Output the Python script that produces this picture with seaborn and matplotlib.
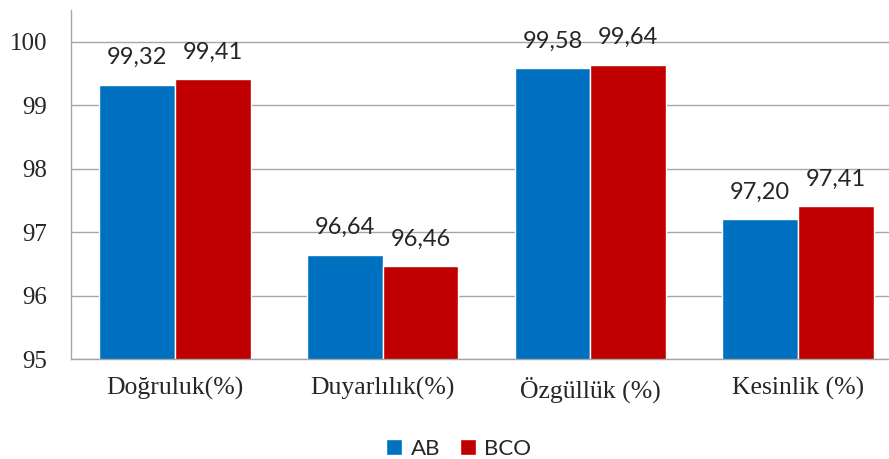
import matplotlib
matplotlib.use("Agg")
import matplotlib.pyplot as plt
import seaborn as sns
import pandas as pd
from matplotlib.patches import Patch

categories = ["Doğruluk(%)", "Duyarlılık(%)", "Özgüllük (%)", "Kesinlik (%)"]
series_names = ["AB", "BCO"]
ab_values = [99.32, 96.64, 99.58, 97.20]
bco_values = [99.41, 96.46, 99.64, 97.41]
y_ticks = [95, 96, 97, 98, 99, 100]

colors = {"AB": "#0070C0", "BCO": "#C00000"}

df = pd.DataFrame({
    "Kategori": categories * 2,
    "Yöntem": ["AB"] * len(categories) + ["BCO"] * len(categories),
    "Değer": ab_values + bco_values,
})

sns.set_style("white")
fig = plt.figure(figsize=(8.89, 4.59), dpi=100)
ax = fig.add_axes([71 / 889, 100 / 459, (902 - 71) / 889, 349 / 459])

sns.barplot(data=df, x="Kategori", y="Değer", hue="Yöntem", hue_order=series_names,
            palette=colors, width=0.73, saturation=1, ax=ax, legend=False,
            errorbar=None)

ax.set_ylim(95, 100.5)
ax.set_xlim(-0.5, len(categories) - 0.5)
ax.set_yticks(y_ticks)
ax.set_yticklabels([str(t) for t in y_ticks])
ax.set_xticks(range(len(categories)))
ax.set_xticklabels(categories)
ax.tick_params(axis="y", length=0, pad=17)
ax.tick_params(axis="x", length=0, pad=13)
for lbl in ax.get_yticklabels():
    lbl.set_fontfamily("Liberation Serif")
    lbl.set_fontsize(18)
for lbl in ax.get_xticklabels():
    lbl.set_fontfamily("Liberation Serif")
    lbl.set_fontsize(18.5)
ax.set_xlabel("")
ax.set_ylabel("")

ax.yaxis.grid(True, color="#A6A6A6", linewidth=1)
ax.set_axisbelow(True)
for side in ["top", "right"]:
    ax.spines[side].set_visible(False)
for side in ["left", "bottom"]:
    ax.spines[side].set_color("#A6A6A6")
    ax.spines[side].set_linewidth(1)

for container in ax.containers:
    labels = [f"{b.get_height():.2f}".replace(".", ",") for b in container]
    ax.bar_label(container, labels=labels, padding=12, fontfamily="Lato", fontsize=17)

handles = [Patch(facecolor=colors[n], label=n) for n in series_names]
fig.legend(handles=handles, loc="center", bbox_to_anchor=(0.516, 10 / 459), ncol=2,
           frameon=False, handlelength=0.7, handleheight=0.7, handletextpad=0.4,
           columnspacing=0.9, prop={"family": "Lato", "size": 16})

fig.savefig("out.png", dpi=100)
